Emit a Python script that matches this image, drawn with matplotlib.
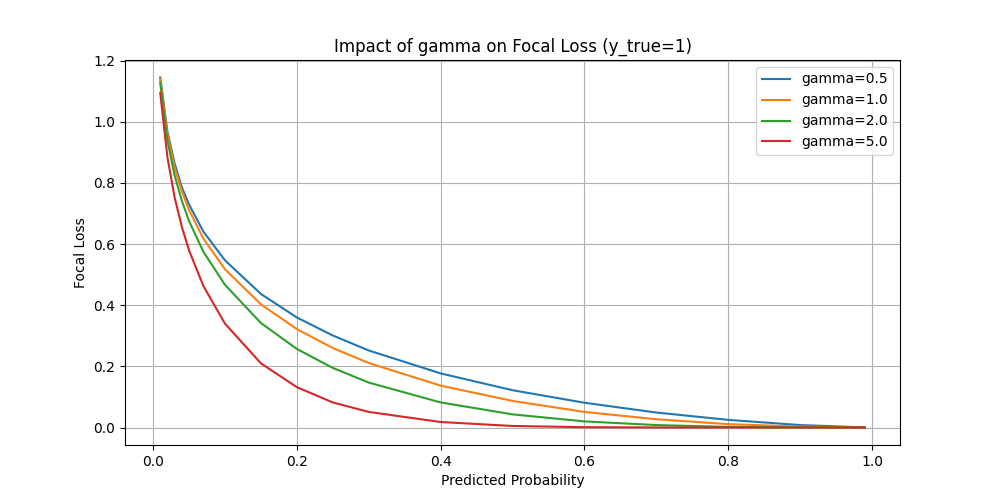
import matplotlib
matplotlib.use("Agg")
import matplotlib.pyplot as plt

prob = [0.01, 0.02, 0.03, 0.04, 0.05, 0.07, 0.1, 0.15, 0.2, 0.25, 0.3, 0.4, 0.5, 0.6, 0.7, 0.8, 0.9, 0.99]
loss_g05 = [1.145, 0.968, 0.864, 0.786, 0.730, 0.641, 0.547, 0.437, 0.360, 0.301, 0.252, 0.177, 0.122, 0.081, 0.049, 0.025, 0.008, 0.0003]
loss_g10 = [1.140, 0.958, 0.851, 0.773, 0.712, 0.618, 0.518, 0.403, 0.322, 0.260, 0.211, 0.137, 0.087, 0.051, 0.027, 0.011, 0.003, 0.0]
loss_g20 = [1.128, 0.939, 0.825, 0.742, 0.676, 0.575, 0.467, 0.342, 0.257, 0.195, 0.147, 0.082, 0.043, 0.020, 0.008, 0.002, 0.0003, 0.0]
loss_g50 = [1.095, 0.884, 0.753, 0.657, 0.580, 0.463, 0.340, 0.210, 0.132, 0.082, 0.051, 0.018, 0.005, 0.001, 0.0002, 0.0, 0.0, 0.0]
labels = ["gamma=0.5", "gamma=1.0", "gamma=2.0", "gamma=5.0"]

fig, ax = plt.subplots(figsize=(10, 5), dpi=100)
for ys, lab in zip([loss_g05, loss_g10, loss_g20, loss_g50], labels):
    ax.plot(prob, ys, label=lab)
ax.set_title("Impact of gamma on Focal Loss (y_true=1)")
ax.set_xlabel("Predicted Probability")
ax.set_ylabel("Focal Loss")
ax.grid(True)
ax.legend(loc="upper right")
fig.savefig("out.png")
